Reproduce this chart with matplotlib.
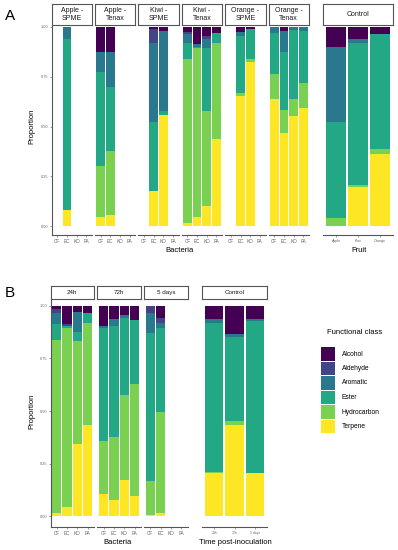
import numpy as np
import matplotlib
matplotlib.use('Agg')
import matplotlib.pyplot as plt
from matplotlib.patches import Rectangle

plt.rcParams['font.family'] = ['Liberation Sans', 'DejaVu Sans']

# functional classes, listed top of stack -> bottom
classes = ["Alcohol", "Aldehyde", "Aromatic", "Ester", "Hydrocarbon", "Terpene"]
colors = ["#440154", "#414487", "#2A788E", "#22A884", "#7AD151", "#FDE725"]

bacteria = ["CF", "EC", "KO", "PA"]
fruits = ["Apple", "Kiwi", "Orange"]
times = ["24h", "72h", "5 days"]

# proportions per bar, in class order (None = no sample)
apple_spme = [None, [0, 0, 0.06, 0.86, 0, 0.08], None, None]
apple_tenax = [[0.124, 0, 0.102, 0.471, 0.256, 0.047],
               [0.127, 0, 0.176, 0.319, 0.323, 0.055], None, None]
kiwi_spme = [None, [0.012, 0.067, 0.397, 0.347, 0, 0.177],
             [0.02, 0, 0.40, 0.022, 0, 0.558], None]
kiwi_tenax = [[0.027, 0.01, 0.045, 0.079, 0.822, 0.017],
              [0.087, 0, 0.013, 0.007, 0.849, 0.044],
              [0.045, 0.017, 0.045, 0.314, 0.479, 0.10],
              [0.029, 0, 0, 0.05, 0.485, 0.436]]
orange_spme = [None, [0.027, 0, 0.017, 0.286, 0.017, 0.653],
               [0.01, 0, 0, 0.151, 0.013, 0.826], None]
orange_tenax = [[0, 0, 0.029, 0.207, 0.127, 0.637],
                [0.019, 0, 0.105, 0.293, 0.117, 0.466],
                [0, 0, 0.015, 0.348, 0.084, 0.553],
                [0, 0, 0.02, 0.263, 0.126, 0.591]]
control_fruit = [[0.099, 0, 0.377, 0.485, 0.039, 0],
                 [0.06, 0, 0.022, 0.712, 0.012, 0.194],
                 [0.037, 0, 0, 0.576, 0.025, 0.362]]

b_24h = [[0.016, 0.018, 0.052, 0.076, 0.825, 0.013],
         [0.087, 0.008, 0, 0.01, 0.854, 0.041],
         [0.027, 0, 0.098, 0.042, 0.492, 0.341],
         [0.032, 0, 0, 0.048, 0.487, 0.433]]
b_72h = [[0.096, 0, 0.01, 0.535, 0.256, 0.103],
         [0.062, 0, 0.033, 0.53, 0.299, 0.076],
         [0.043, 0, 0.016, 0.365, 0.405, 0.171],
         [0.067, 0, 0, 0.306, 0.532, 0.095]]
b_5days = [[0, 0.035, 0.095, 0.703, 0.162, 0.005],
           [0.059, 0.023, 0.024, 0.397, 0.481, 0.016], None, None]
control_time = [[0.062, 0, 0.02, 0.71, 0.005, 0.203],
                [0.133, 0, 0.013, 0.402, 0.02, 0.432],
                [0.064, 0, 0.007, 0.726, 0, 0.203]]

W, H = 398, 550
fig = plt.figure(figsize=(W / 100, H / 100), dpi=100)
fig.patch.set_facecolor('white')


def px_axes(x0, y0, x1, y1):
    return fig.add_axes([x0 / W, 1 - y1 / H, (x1 - x0) / W, (y1 - y0) / H])


def strip(x0, y0, x1, y1, text, fs):
    s = px_axes(x0, y0, x1, y1)
    s.set_xticks([])
    s.set_yticks([])
    for sp in s.spines.values():
        sp.set_color('#555555')
        sp.set_linewidth(0.8)
    s.text(0.5, 0.5, text, ha='center', va='center', fontsize=fs,
           color='#1a1a1a', linespacing=1.1, transform=s.transAxes)


def facet(x0, y0, x1, y1, cats, bars, ylim, yaxis, tick_fs):
    ax = px_axes(x0, y0, x1, y1)
    pos = np.arange(len(cats))
    for i, b in enumerate(bars):
        if b is None:
            continue
        bottom = 0
        for k in range(len(classes) - 1, -1, -1):
            ax.bar(pos[i], b[k], bottom=bottom, width=0.9,
                   color=colors[k], linewidth=0)
            bottom += b[k]
    ax.set_xlim(-0.6, len(cats) - 0.4)
    ax.set_ylim(*ylim)
    ax.set_xticks(pos)
    ax.set_xticklabels(cats, fontsize=tick_fs, color='#666666')
    ax.tick_params(axis='x', length=1.5, width=0.4, color='#555555', pad=1.5)
    for name in ['top', 'right']:
        ax.spines[name].set_visible(False)
    ax.spines['bottom'].set_color('#555555')
    ax.spines['bottom'].set_linewidth(0.8)
    if yaxis:
        ax.spines['left'].set_color('#555555')
        ax.spines['left'].set_linewidth(0.8)
        ax.set_yticks([0, 0.25, 0.5, 0.75, 1.0])
        ax.set_yticklabels(["0.00", "0.25", "0.50", "0.75", "1.00"],
                           fontsize=2.8, color='#666666')
        ax.tick_params(axis='y', length=1.5, width=0.4, color='#555555', pad=1)
    else:
        ax.spines['left'].set_visible(False)
        ax.set_yticks([])
    ax.set_facecolor('none')
    return ax


# ---- Panel A ----
ylim_a = (-0.045, 1.01)
a_facets = [("Apple -\nSPME", apple_spme), ("Apple -\nTenax", apple_tenax),
            ("Kiwi -\nSPME", kiwi_spme), ("Kiwi -\nTenax", kiwi_tenax),
            ("Orange -\nSPME", orange_spme), ("Orange -\nTenax", orange_tenax)]
x = 51.5
for j, (lab, bars) in enumerate(a_facets):
    facet(x, 25, x + 40.5, 235, bacteria, bars, ylim_a, j == 0, 3.3)
    strip(x, 4, x + 40.5, 25, lab, 5)
    x += 43.4
facet(323, 25, 393, 235, fruits, control_fruit, ylim_a, False, 2.6)
strip(323, 4, 393, 25, "Control", 5)

fig.text(180 / W, 1 - 251 / H, "Bacteria", ha='center', va='center', fontsize=5.5)
fig.text(359 / W, 1 - 251 / H, "Fruit", ha='center', va='center', fontsize=5.5)
fig.text(32 / W, 1 - 126 / H, "Proportion", ha='center', va='center',
         rotation=90, fontsize=5.5)
fig.text(10 / W, 1 - 16 / H, "A", ha='center', va='center', fontsize=11)

# ---- Panel B ----
ylim_b = (-0.052, 1.033)
b_facets = [("24h", b_24h), ("72h", b_72h), ("5 days", b_5days)]
x = 50.5
for j, (lab, bars) in enumerate(b_facets):
    facet(x, 299, x + 43.5, 527, bacteria, bars, ylim_b, j == 0, 3.3)
    strip(x, 286, x + 43.5, 299, lab, 4.5)
    x += 46.8
facet(202, 299, 267, 527, times, control_time, ylim_b, False, 2.4)
strip(202, 286, 267, 299, "Control", 4.5)

fig.text(118 / W, 1 - 542 / H, "Bacteria", ha='center', va='center', fontsize=5.5)
fig.text(235 / W, 1 - 542 / H, "Time post-inoculation", ha='center',
         va='center', fontsize=5.5)
fig.text(32 / W, 1 - 411 / H, "Proportion", ha='center', va='center',
         rotation=90, fontsize=5.5)
fig.text(10 / W, 1 - 293 / H, "B", ha='center', va='center', fontsize=11)

# ---- Legend ----
lg = px_axes(0, 0, W, H)
lg.set_xlim(0, W)
lg.set_ylim(H, 0)
lg.axis('off')
lg.text(355, 333, "Functional class", ha='center', va='center', fontsize=5.5)
for i, (c, col) in enumerate(zip(classes, colors)):
    y0 = 347 + i * 14.5
    lg.add_patch(Rectangle((321, y0), 14, 13.5, facecolor=col, edgecolor='none'))
    lg.text(342, y0 + 7, c, ha='left', va='center', fontsize=4.8)

fig.savefig("out.png", dpi=100)
